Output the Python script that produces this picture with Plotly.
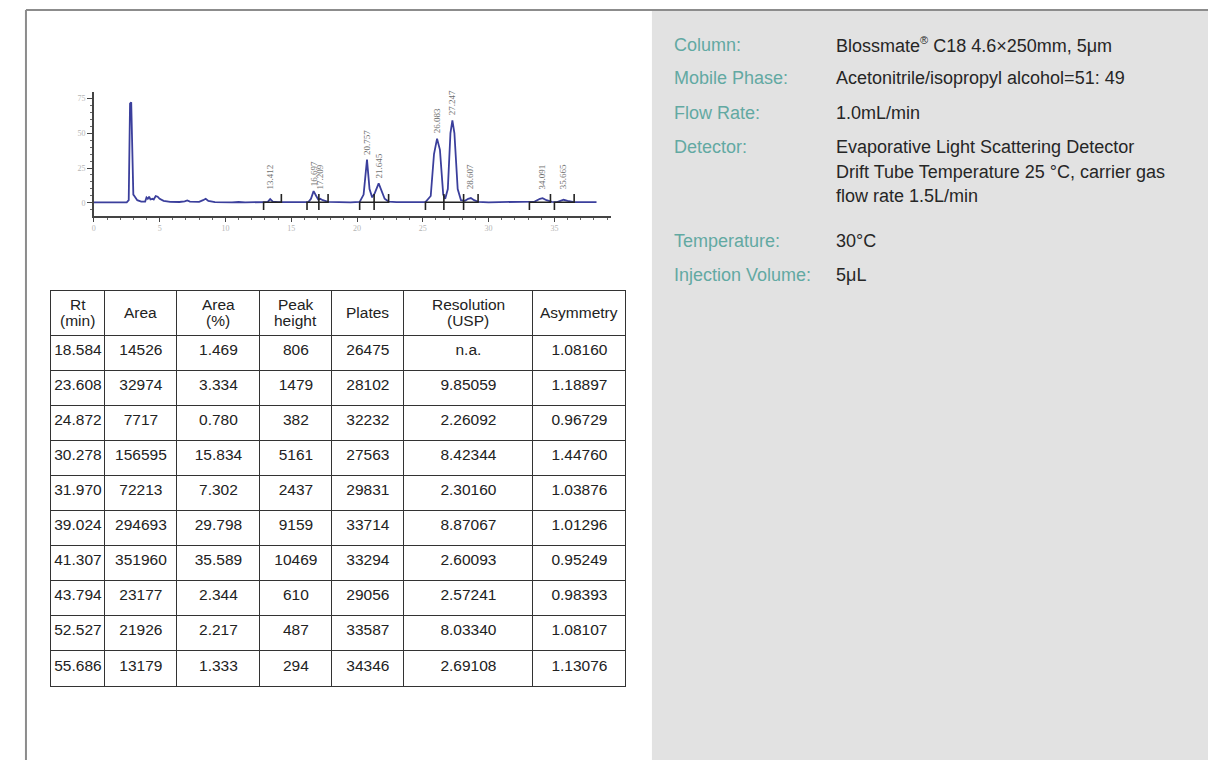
import plotly.graph_objects as go

W, H = 1208, 760

# ---------------- chromatogram ----------------
rt_min = [0.0, 2.5, 2.65, 2.71, 2.75, 2.84, 2.89, 2.94, 3.0, 3.08, 3.15, 3.3, 3.6, 3.9,
          4.0, 4.1, 4.2, 4.3, 4.45, 4.55, 4.7, 4.85, 5.0, 5.3, 5.8, 6.5, 6.9, 7.1, 7.3,
          8.0, 8.3, 8.5, 8.7, 9.2, 10.5, 11.0, 11.5, 12.5, 13.2, 13.4, 13.6, 14.0,
          16.3, 16.5, 16.7, 16.9, 17.05, 17.2, 17.4, 17.8, 18.5, 19.5, 20.2, 20.5,
          20.757, 20.95, 21.15, 21.35, 21.645, 21.85, 22.1, 22.4, 23.0, 25.2, 25.6,
          25.85, 26.083, 26.3, 26.55, 26.7, 26.9, 27.1, 27.247, 27.4, 27.65, 27.9,
          28.2, 28.45, 28.65, 28.9, 29.2, 30.0, 31.5, 33.0, 33.5, 33.9, 34.1, 34.4,
          34.8, 35.2, 35.5, 35.7, 36.0, 36.4, 38.2]
signal = [0.5, 0.5, 2.0, 35.0, 71.0, 72.0, 40.0, 10.0, 6.0, 5.0, 4.0, 2.0, 1.0, 1.0,
          4.0, 3.0, 4.5, 2.5, 3.0, 2.5, 5.0, 4.5, 3.0, 1.5, 0.8, 0.7, 1.2, 1.8, 1.0,
          0.8, 2.0, 3.0, 1.5, 0.6, 0.4, 0.7, 0.4, 0.5, 0.7, 2.8, 1.0, 0.6,
          0.6, 3.0, 8.5, 5.0, 2.5, 3.0, 2.0, 0.8, 0.6, 0.5, 0.8, 6.0,
          31.0, 10.0, 4.0, 7.0, 14.0, 9.0, 3.0, 1.0, 0.6, 0.7, 5.0,
          35.0, 46.0, 38.0, 6.0, 3.0, 10.0, 50.0, 59.0, 50.0, 10.0, 2.0,
          1.5, 3.0, 3.5, 2.0, 0.8, 0.5, 0.7, 0.5, 1.0, 3.0, 3.5, 2.0,
          0.8, 0.6, 1.8, 2.3, 1.5, 0.7, 0.6]

peak_rt = [13.412, 16.697, 17.209, 20.757, 21.645, 26.083, 27.247, 28.607, 34.091, 35.665]
peak_height = [2.8, 8.5, 3.0, 31.0, 14.0, 46.0, 59.0, 3.5, 3.5, 2.3]

integ_start = [12.9, 16.2, 17.1, 20.2, 21.3, 25.2, 26.6, 28.1, 33.1, 35.0]
integ_end = [14.25, 17.1, 17.8, 21.3, 22.4, 26.6, 28.1, 29.2, 34.7, 36.5]

x_tickvals = [0, 5, 10, 15, 20, 25, 30, 35]
y_tickvals = [0, 25, 50, 75]

# ---------------- table ----------------
table_header = ["Rt<br>(min)", "Area", "Area<br>(%)", "Peak<br>height", "Plates",
                "Resolution<br>(USP)", "Asymmetry"]
rt_col = ["18.584", "23.608", "24.872", "30.278", "31.970", "39.024", "41.307",
          "43.794", "52.527", "55.686"]
area_col = [14526, 32974, 7717, 156595, 72213, 294693, 351960, 23177, 21926, 13179]
area_pct_col = ["1.469", "3.334", "0.780", "15.834", "7.302", "29.798", "35.589",
                "2.344", "2.217", "1.333"]
peak_height_col = [806, 1479, 382, 5161, 2437, 9159, 10469, 610, 487, 294]
plates_col = [26475, 28102, 32232, 27563, 29831, 33714, 33294, 29056, 33587, 34346]
resolution_col = ["n.a.", "9.85059", "2.26092", "8.42344", "2.30160", "8.87067",
                  "2.60093", "2.57241", "8.03340", "2.69108"]
asymmetry_col = ["1.08160", "1.18897", "0.96729", "1.44760", "1.03876", "1.01296",
                 "0.95249", "0.98393", "1.08107", "1.13076"]

# ---------------- conditions panel ----------------
cond_labels = ["Column:", "Mobile Phase:", "Flow Rate:", "Detector:", "Temperature:",
               "Injection Volume:"]
cond_values = [
    ["Blossmate<sup><span style='font-size:11px'>®</span></sup> C18 4.6×250mm, 5μm"],
    ["Acetonitrile/isopropyl alcohol=51: 49"],
    ["1.0mL/min"],
    ["Evaporative Light Scattering Detector",
     "Drift Tube Temperature 25 °C, carrier gas",
     "flow rate 1.5L/min"],
    ["30°C"],
    ["5μL"],
]

FONT = "Liberation Sans, Arial"
fig = go.Figure()

# chromatogram signal
fig.add_trace(go.Scatter(x=rt_min, y=signal, mode="lines",
                         line=dict(color="#3b3f9c", width=1.8),
                         hoverinfo="skip", showlegend=False,
                         xaxis="x", yaxis="y"))

# integration markers
ix, iy = [], []
base = 0.5
for s, e in zip(integ_start, integ_end):
    ix += [s, s, e, e, None]
    iy += [base - 5.5, base, base, base + 6.0, None]
fig.add_trace(go.Scatter(x=ix, y=iy, mode="lines",
                         line=dict(color="#222222", width=1.6),
                         hoverinfo="skip", showlegend=False,
                         xaxis="x", yaxis="y"))

# peak labels
annotations = []
for t, h in zip(peak_rt, peak_height):
    annotations.append(dict(x=t, y=max(h, 6.0), xref="x", yref="y",
                            text=f"{t:.3f}", textangle=-90, showarrow=False,
                            xanchor="center", yanchor="bottom", yshift=3,
                            font=dict(family="Liberation Serif", size=9, color="#6e6e6e")))

# table (header text placed centred in the header row)
tbl_x0, tbl_x1 = 49, 625
tbl_top = 290
head_h = 45
col_widths = [54, 72, 83, 72, 72, 129, 93]
fig.add_trace(go.Table(
    domain=dict(x=[tbl_x0 / W, tbl_x1 / W], y=[0.0, 1 - tbl_top / H]),
    columnwidth=col_widths,
    header=dict(values=[""] * len(table_header), height=head_h,
                line=dict(color="#333333", width=1),
                fill=dict(color="white"),
                font=dict(family=FONT, size=15, color="#222222")),
    cells=dict(values=[rt_col, area_col, area_pct_col, peak_height_col, plates_col,
                       resolution_col, asymmetry_col],
               height=35.1,
               align="center",
               line=dict(color="#333333", width=1),
               fill=dict(color="white"),
               font=dict(family=FONT, size=15.5, color="#222222")),
))

scale = (tbl_x1 - tbl_x0) / sum(col_widths)
left = tbl_x0
head_mid = tbl_top + head_h / 2
for head, cw in zip(table_header, col_widths):
    cx = left + cw * scale / 2
    left += cw * scale
    lines = head.split("<br>")
    n = len(lines)
    for k, ln in enumerate(lines):
        yy = head_mid + (k - (n - 1) / 2) * 17
        annotations.append(dict(x=cx / W, y=1 - yy / H, xref="paper", yref="paper",
                                text=ln, showarrow=False, xanchor="center",
                                yanchor="middle",
                                font=dict(family=FONT, size=15.5, color="#222222")))

# conditions text
label_y = [45, 78, 113, 147, 241, 275]
line_gap = 24.5
for lab, vals, yy in zip(cond_labels, cond_values, label_y):
    annotations.append(dict(x=671 / W, y=1 - yy / H, xref="paper", yref="paper",
                            text=lab, showarrow=False, xanchor="left", yanchor="middle",
                            font=dict(family=FONT, size=18, color="#62a9a2")))
    for k, v in enumerate(vals):
        annotations.append(dict(x=833 / W, y=1 - (yy + k * line_gap) / H,
                                xref="paper", yref="paper", text=v, showarrow=False,
                                xanchor="left", yanchor="middle",
                                font=dict(family=FONT, size=18, color="#262626")))

shapes = [
    dict(type="rect", xref="paper", yref="paper", x0=651 / W, x1=1.0, y0=0.0,
         y1=1 - 11 / H, fillcolor="#e2e2e2", line=dict(width=0), layer="below"),
    dict(type="line", xref="paper", yref="paper", x0=24 / W, x1=1.0,
         y0=1 - 10 / H, y1=1 - 10 / H, line=dict(color="#8c8c8c", width=2)),
    dict(type="line", xref="paper", yref="paper", x0=24 / W, x1=24 / W,
         y0=0.0, y1=1 - 10 / H, line=dict(color="#8c8c8c", width=2)),
]

fig.update_layout(
    width=W, height=H,
    margin=dict(l=0, r=0, t=0, b=0),
    paper_bgcolor="white", plot_bgcolor="rgba(0,0,0,0)",
    showlegend=False,
    xaxis=dict(domain=[92 / W, 610 / W], range=[0, 39.3], anchor="y",
               showgrid=False, zeroline=False, showline=True,
               linecolor="#444444", linewidth=1.5,
               ticks="outside", ticklen=4, tickcolor="#444444",
               tickvals=x_tickvals,
               minor=dict(dtick=1, ticks="outside", ticklen=2, tickcolor="#666666"),
               tickfont=dict(family="Liberation Serif", size=8, color="#b5b5b5")),
    yaxis=dict(domain=[1 - 216 / H, 1 - 92 / H], range=[-9.3, 79.3], anchor="x",
               showgrid=False, zeroline=False, showline=True,
               linecolor="#444444", linewidth=1.5,
               ticks="outside", ticklen=5, tickcolor="#444444",
               tickvals=y_tickvals,
               minor=dict(dtick=5, ticks="outside", ticklen=2, tickcolor="#666666"),
               tickfont=dict(family="Liberation Serif", size=8, color="#b5b5b5")),
    annotations=annotations,
    shapes=shapes,
)

fig.write_html("out.html",
               config={"displayModeBar": False},
               post_script="document.body.style.margin='0';"
                           "document.body.style.overflow='hidden';")
